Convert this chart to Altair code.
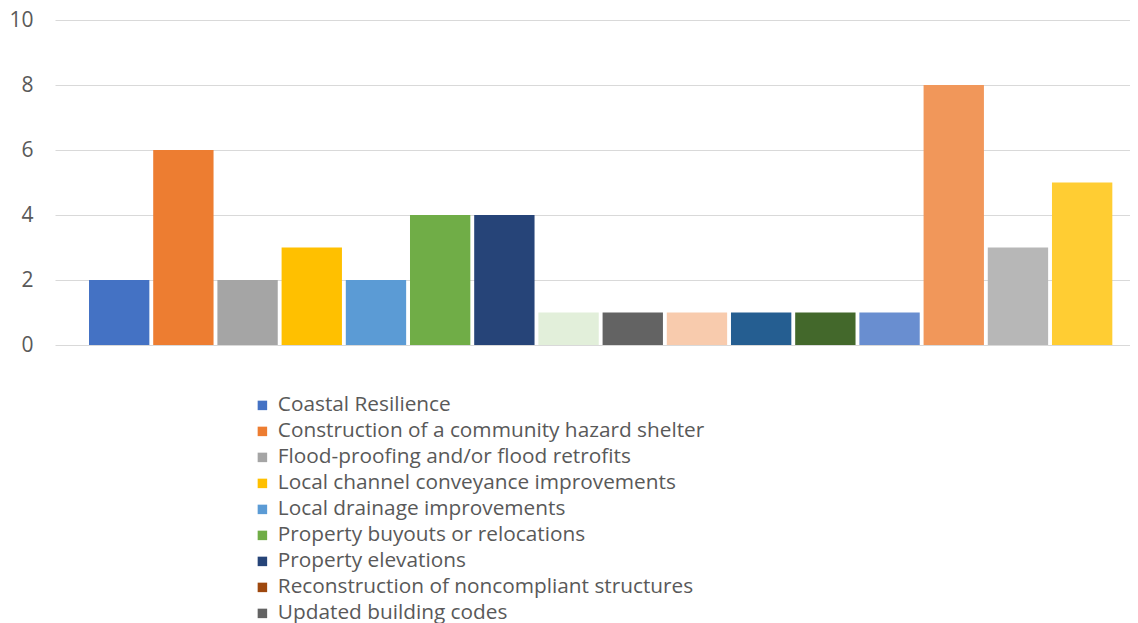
import altair as alt
import pandas as pd

# Bars (one cluster of 16 series)
bar_names = [
    "Coastal Resilience",
    "Construction of a community hazard shelter",
    "Flood-proofing and/or flood retrofits",
    "Local channel conveyance improvements",
    "Local drainage improvements",
    "Property buyouts or relocations",
    "Property elevations",
    "Reconstruction of noncompliant structures",
    "Updated building codes",
    "Series 10", "Series 11", "Series 12", "Series 13",
    "Series 14", "Series 15", "Series 16",
]
bar_values = [2, 6, 2, 3, 2, 4, 4, 1, 1, 1, 1, 1, 1, 8, 3, 5]
bar_colors = [
    "#4472C4", "#ED7D31", "#A5A5A5", "#FFC000", "#5B9BD5", "#70AD47",
    "#264478", "#E2EFDA", "#636363", "#F8CBAD", "#255E91", "#43682B",
    "#698ED0", "#F1975A", "#B7B7B7", "#FFCD33",
]

# Legend (only the first nine entries are shown)
legend_labels = bar_names[:9]
legend_colors = [
    "#4472C4", "#ED7D31", "#A5A5A5", "#FFC000", "#5B9BD5", "#70AD47",
    "#264478", "#9E480E", "#636363",
]

FONT = "Open Sans"
TEXT = "#595959"

bars_df = pd.DataFrame({
    "order": list(range(len(bar_names))),
    "name": bar_names,
    "value": bar_values,
    "color": bar_colors,
})
legend_df = pd.DataFrame({"label": legend_labels})

bars = alt.Chart(bars_df).mark_bar().encode(
    x=alt.X(
        "order:O",
        axis=None,
        scale=alt.Scale(paddingInner=0.06, paddingOuter=0.4025, align=0.658),
    ),
    y=alt.Y(
        "value:Q",
        scale=alt.Scale(domain=[0, 10]),
        axis=alt.Axis(
            values=[0, 2, 4, 6, 8, 10],
            title=None,
            domain=False,
            ticks=False,
            grid=True,
            gridColor="#D9D9D9",
            gridWidth=1,
            labelFont=FONT,
            labelFontSize=21,
            labelColor=TEXT,
            labelPadding=22,
        ),
    ),
    color=alt.Color("color:N", scale=None),
)

legend_layer = alt.Chart(legend_df).mark_square(size=0, opacity=0).encode(
    color=alt.Color(
        "label:N",
        scale=alt.Scale(domain=legend_labels, range=legend_colors),
        sort=legend_labels,
        legend=alt.Legend(
            title=None,
            orient="none",
            legendX=197,
            legendY=375,
            symbolType="square",
            symbolSize=90,
            symbolOpacity=1,
            symbolStrokeWidth=0,
            labelFont=FONT,
            labelFontSize=20.8,
            labelColor=TEXT,
            labelOffset=5,
            rowPadding=4,
            labelLimit=800,
        ),
    ),
)

chart = (
    alt.layer(bars, legend_layer)
    .resolve_scale(color="independent")
    .properties(
        width=1075,
        height=325,
        autosize=alt.AutoSizeParams(type="none"),
        padding={"left": 47, "top": 12, "right": 0, "bottom": 278},
    )
    .configure_view(stroke=None)
)

chart.save("out.html", embed_options={"renderer": "svg", "actions": False})
